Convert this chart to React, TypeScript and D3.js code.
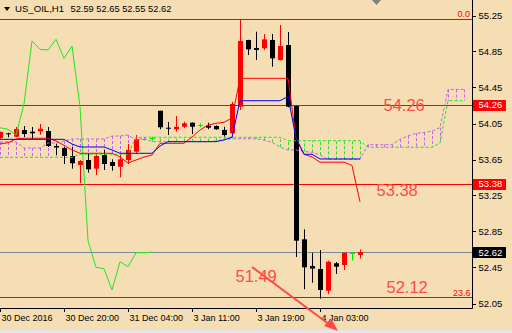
import React from "react";
import * as d3 from "d3";

// ---- Candles (H1 bars, index 0 = 30 Dec 2016 12:00) ----
const opens = [53.889, 53.941, 53.903, 53.978, 53.959, 53.963, 53.967, 53.8, 53.778, 53.689, 53.589, 53.644, 53.548, 53.7, 53.622, 53.57, 53.644, 53.737, 53.88, 53.89, 54.192, 54.003, 53.986, 54.014, 54.059, 54.033, 54.026, 54.022, 53.978, 53.941, 54.237, 54.978, 54.889, 54.886, 54.978, 54.756, 54.922, 54.244, 52.763, 52.467, 52.433, 52.192, 52.497, 52.478, 52.614, 52.59];
const highs = [53.96, 53.948, 54.011, 54.022, 54.011, 54.044, 54.011, 53.822, 53.789, 53.789, 53.644, 53.719, 53.719, 53.756, 53.652, 53.7, 53.822, 53.922, 53.9, 53.905, 54.192, 54.067, 54.133, 54.07, 54.063, 54.052, 54.059, 54.03, 54.014, 54.289, 55.208, 54.98, 55.07, 55.044, 55.044, 55.144, 55.067, 54.25, 52.874, 52.614, 52.644, 52.526, 52.511, 52.614, 52.622, 52.65];
const lows = [53.88, 53.897, 53.897, 53.9, 53.874, 53.926, 53.789, 53.7, 53.6, 53.548, 53.386, 53.503, 53.478, 53.533, 53.526, 53.452, 53.6, 53.719, 53.86, 53.87, 53.986, 53.922, 53.959, 53.997, 53.933, 54.008, 53.986, 53.98, 53.903, 53.9, 54.2, 54.811, 54.756, 54.867, 54.681, 54.75, 54.23, 52.567, 52.208, 52.281, 52.103, 52.156, 52.378, 52.422, 52.526, 52.55];
const closes = [53.956, 53.93, 53.989, 53.933, 53.941, 53.992, 53.8, 53.783, 53.689, 53.608, 53.633, 53.541, 53.689, 53.6, 53.578, 53.652, 53.756, 53.874, 53.88, 53.89, 54.008, 53.997, 54.014, 54.052, 54.014, 54.033, 54.003, 53.986, 53.922, 54.267, 54.967, 54.874, 54.867, 54.985, 54.774, 54.911, 54.237, 52.748, 52.452, 52.437, 52.2, 52.514, 52.459, 52.614, 52.614, 52.62];

// ---- Ichimoku ----
const tenkan = [53.822, 53.837, 53.878, 53.886, 53.886, 53.886, 53.886, 53.856, 53.808, 53.756, 53.719, 53.719, 53.719, 53.719, 53.719, 53.678, 53.611, 53.644, 53.678, 53.7, 53.83, 53.83, 53.83, 53.83, 53.9, 53.978, 54.033, 54.052, 54.063, 54.111, 54.552, 54.552, 54.552, 54.552, 54.552, 54.552, 54.552, 53.887, 53.708, 53.678, 53.62, 53.62, 53.62, 53.62, 53.584, 53.179];
const kijun = [53.874, 53.874, 53.874, 53.874, 53.874, 53.874, 53.874, 53.874, 53.874, 53.822, 53.789, 53.789, 53.789, 53.789, 53.756, 53.719, 53.719, 53.719, 53.719, 53.719, 53.8, 53.848, 53.848, 53.848, 53.848, 53.848, 53.848, 53.848, 53.867, 53.897, 54.303, 54.303, 54.303, 54.303, 54.303, 54.303, 54.351, 53.887, 53.708, 53.708, 53.656, 53.656, 53.656, 53.656, 53.656, 53.656];
const spanA = [53.845, 53.845, 53.845, 53.778, 53.778, 53.778, 53.833, 53.833, 53.856, 53.878, 53.878, 53.878, 53.878, 53.878, 53.911, 53.911, 53.922, 53.867, 53.886, 53.848, 53.848, 53.848, 53.848, 53.848, 53.848, 53.848, 53.848, 53.856, 53.876, 53.88, 53.88, 53.88, 53.88, 53.865, 53.841, 53.789, 53.756, 53.756, 53.74, 53.73, 53.7, 53.652, 53.652, 53.652, 53.652, 53.652, 53.815, 53.815, 53.815, 53.815, 53.874, 53.913, 53.941, 53.95, 53.965, 54.004, 54.428, 54.428, 54.428];
const spanB = [53.674, 53.674, 53.674, 53.674, 53.674, 53.674, 53.674, 53.674, 53.674, 53.674, 53.708, 53.708, 53.708, 53.708, 53.708, 53.708, 53.708, 53.897, 53.897, 53.897, 53.897, 53.897, 53.897, 53.897, 53.897, 53.897, 53.897, 53.897, 53.897, 53.897, 53.897, 53.897, 53.897, 53.897, 53.897, 53.897, 53.859, 53.859, 53.859, 53.859, 53.859, 53.859, 53.859, 53.859, 53.859, 53.859, 53.786, 53.786, 53.786, 53.786, 53.786, 53.786, 53.786, 53.786, 53.786, 53.833, 54.303, 54.303, 54.303];
const chikouShift = 26;

// ---- Axes ----
const priceTicks = [55.25, 54.85, 54.45, 54.05, 53.65, 53.25, 52.85, 52.45, 52.05];
const timeLabels = ["30 Dec 2016", "30 Dec 20:00", "31 Dec 04:00", "3 Jan 11:00", "3 Jan 19:00", "4 Jan 03:00"];
const timeLabelBars = [0, 8, 16, 24, 32, 40];

// ---- Levels / objects ----
const fiboTop = 55.21;
const fiboBottom = 52.12;
const levelLines = [54.26, 53.38];
const levelTexts = ["54.26", "53.38", "52.12", "51.49"];
const bidPrice = 52.62;
const titleSymbol = "US_OIL,H1";
const titleOHLC = ["52.59", "52.65", "52.55", "52.62"];

const FONT = "'Liberation Sans', Arial, sans-serif";
const RED = "#ff0000";
const TXTRED = "#ff4a4a";
const MAGENTA = "#c860f0";
const GREEN = "#22e622";

export default function App() {
  const W = 512, H = 333;
  const PW = 472, PH = 308;
  const x = d3.scaleLinear().domain([0, 59]).range([0, 472]);
  const y = d3.scaleLinear().domain([52.05, 55.25]).range([303.5, 15.5]);
  const lineGen = (arr: number[], offset = 0) =>
    d3.line<number>().x((_, i) => x(i + offset)).y((v) => y(v))(arr) || "";
  const chikou = d3.range(closes.length - chikouShift).map((k) => closes[k + chikouShift]);

  const candles = opens.map((o, i) => {
    const c = closes[i];
    const color = c > o ? RED : c < o ? "#000000" : "#00ee00";
    const cx = Math.round(x(i));
    const top = Math.min(y(o), y(c));
    const bot = Math.max(y(o), y(c));
    return (
      <g key={i}>
        <line x1={cx + 0.5} x2={cx + 0.5} y1={y(highs[i])} y2={y(lows[i])} stroke={color} strokeWidth={1} />
        {c === o ? (
          <line x1={cx - 2} x2={cx + 3} y1={Math.round(top) + 0.5} y2={Math.round(top) + 0.5} stroke={color} strokeWidth={1} />
        ) : (
          <rect x={cx - 2} width={5} y={top} height={Math.max(1, bot - top)} fill={color} />
        )}
      </g>
    );
  });

  const hatch = spanA.map((a, k) => {
    const b = spanB[k];
    const col = a > b ? MAGENTA : GREEN;
    return (
      <line key={k} x1={Math.round(x(k)) + 0.5} x2={Math.round(x(k)) + 0.5} y1={y(a)} y2={y(b)} stroke={col} strokeWidth={1} strokeDasharray="3,2" />
    );
  });

  const hl = (v: number) => Math.round(y(v)) + 0.5;

  return (
    <div style={{ position: "fixed", left: 0, top: 0 }}>
      <svg width={W} height={H} style={{ display: "block" }} fontFamily={FONT}>
        <rect x={0} y={0} width={W} height={H} fill="#f5deb3" />
        <rect x={0} y={330} width={W} height={3} fill="#e2e7ee" />
        <defs>
          <clipPath id="plot">
            <rect x={0} y={0} width={PW} height={PH} />
          </clipPath>
        </defs>
        <g clipPath="url(#plot)">
          {/* level lines */}
          <line x1={0} x2={PW} y1={hl(fiboTop)} y2={hl(fiboTop)} stroke={RED} />
          <line x1={0} x2={PW} y1={hl(fiboBottom)} y2={hl(fiboBottom)} stroke={RED} />
          {levelLines.map((v) => (
            <line key={v} x1={0} x2={PW} y1={hl(v)} y2={hl(v)} stroke={RED} />
          ))}
          <line x1={0} x2={PW} y1={hl(bidPrice)} y2={hl(bidPrice)} stroke="#778899" />
          {/* cloud */}
          {hatch}
          {candles}
          <path d={lineGen(spanA)} fill="none" stroke={MAGENTA} strokeDasharray="3,2" />
          <path d={lineGen(spanB)} fill="none" stroke={GREEN} strokeDasharray="3,2" />
          <path d={lineGen(chikou)} fill="none" stroke={GREEN} />
          <path d={lineGen(tenkan)} fill="none" stroke={RED} />
          <path d={lineGen(kijun)} fill="none" stroke="#0000ff" />
          {/* fibo texts */}
          <text x={470} y={17} fontSize={9} fill={RED} textAnchor="end">0.0</text>
          <text x={470.5} y={295.5} fontSize={9} fill={RED} textAnchor="end">23.6</text>
        </g>
        {/* big level texts */}
        <text x={383.5} y={111} fontSize={16.5} fill={TXTRED}>{levelTexts[0]}</text>
        <text x={376.5} y={195.7} fontSize={16.5} fill={TXTRED}>{levelTexts[1]}</text>
        <text x={386.5} y={292.7} fontSize={16.5} fill={TXTRED}>{levelTexts[2]}</text>
        <text x={235.5} y={281.7} fontSize={16.5} fill={TXTRED}>{levelTexts[3]}</text>

        {/* axes */}
        <line x1={PW + 0.5} x2={PW + 0.5} y1={0} y2={PH + 0.5} stroke="#000" />
        <line x1={0} x2={PW + 0.5} y1={PH + 0.5} y2={PH + 0.5} stroke="#000" />
        {priceTicks.map((v) => (
          <g key={v}>
            <line x1={PW} x2={PW + 4} y1={hl(v)} y2={hl(v)} stroke="#000" />
            <text x={478.5} y={y(v) + 3.4} fontSize={9.5} fill="#000">{v.toFixed(2)}</text>
          </g>
        ))}
        {levelLines.map((v) => (
          <g key={"b" + v}>
            <rect x={473} y={hl(v) - 5.5} width={33} height={11} fill={RED} />
            <text x={478.5} y={y(v) + 3.4} fontSize={9.5} fill="#fff">{v.toFixed(2)}</text>
          </g>
        ))}
        <rect x={473} y={hl(bidPrice) - 5.5} width={33} height={11} fill="#000" />
        <text x={478.5} y={y(bidPrice) + 3.4} fontSize={9.5} fill="#fff">{bidPrice.toFixed(2)}</text>

        {timeLabelBars.map((b, i) => (
          <g key={b}>
            <line x1={Math.round(x(b)) + 0.5} x2={Math.round(x(b)) + 0.5} y1={PH} y2={PH + 4} stroke="#000" />
            <text x={x(b) + 1.5} y={320.5} fontSize={9} fill="#000">{timeLabels[i]}</text>
          </g>
        ))}

        {/* title */}
        <polygon points="4,7 10,7 7,11" fill="#000" />
        <text x={15} y={12} fontSize={9.6} fill="#000">{titleSymbol}</text>
        <text x={70.5} y={12} fontSize={9.3} fill="#000">{titleOHLC.join(" ")}</text>

        {/* chart shift marker */}
        <polygon points="372,0 381,0 376.5,5" fill="#808080" />

        {/* arrow */}
        <line x1={252} y1={267} x2={330} y2={325} stroke={TXTRED} strokeWidth={2} />
        <polygon points="338,331 324,326 331,318" fill={TXTRED} />
      </svg>
    </div>
  );
}
